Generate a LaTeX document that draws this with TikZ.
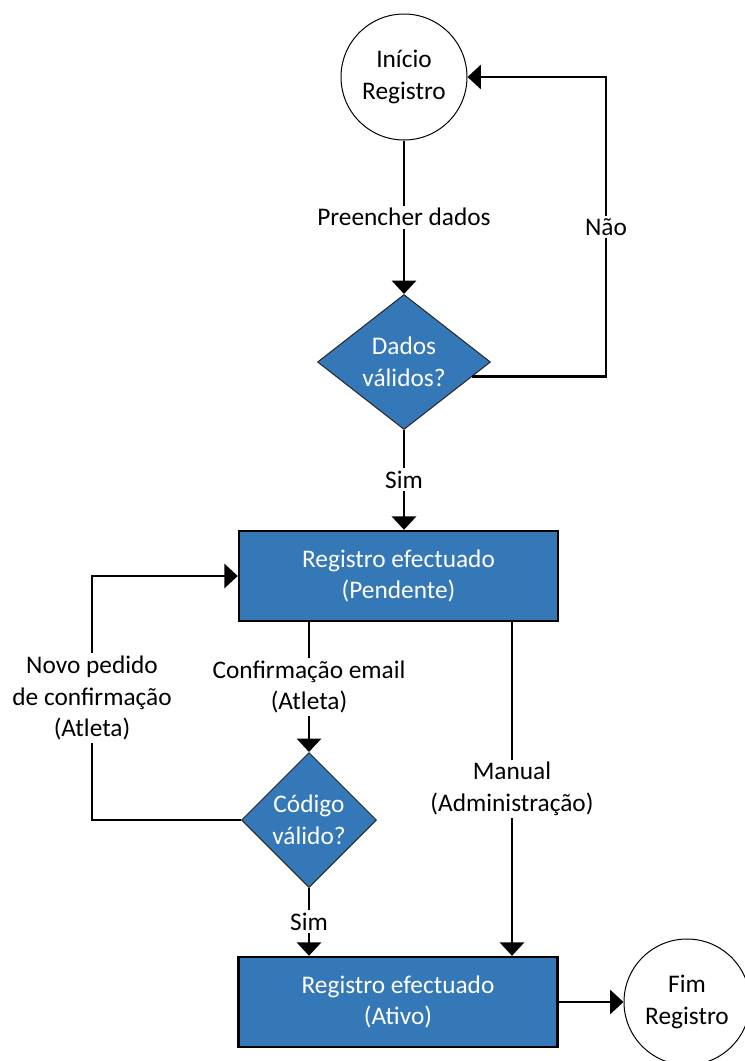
\documentclass[tikz,border=0pt]{standalone}
\usepackage{fontspec}
\setmainfont{Carlito}
\usetikzlibrary{shapes.geometric,arrows.meta}
\definecolor{flowblue}{RGB}{52,120,183}
\begin{document}
\begin{tikzpicture}[x=0.75pt,y=-0.75pt,
  every node/.style={font=\fontsize{19}{23.6}\selectfont, align=center},
  terminal/.style={circle, draw=black, line width=0.75pt, fill=white, minimum size=94.5pt, inner sep=0pt},
  decision/.style={diamond, draw=black!85, line width=0.75pt, fill=flowblue, text=white, inner sep=-3pt},
  process/.style={rectangle, draw=black, line width=1.8pt, fill=flowblue, text=white,
                  minimum width=239.25pt, minimum height=67.5pt},
  flow/.style={line width=1.8pt, -{Triangle[width=18pt,length=10pt]}},
  tag/.style={fill=white, inner sep=2pt}
]
\useasboundingbox (0,0) rectangle (744,1061);

% shapes
\node[terminal] (start) at (404,77) {Início\\Registro};
\node[decision, aspect=1.3, minimum width=129.75pt, minimum height=101.25pt] (valid) at (404,362) {Dados\\válidos?};
\node[process] (pend) at (398.5,576) {Registro efectuado\\(Pendente)};
\node[decision, minimum width=101.25pt, minimum height=101.25pt] (code) at (309,820) {Código\\válido?};
\node[process] (ativo) at (398,1002) {Registro efectuado\\(Ativo)};
\node[terminal] (fim) at (687,1002) {Fim\\Registro};

% columns used by the routed connectors
\coordinate (loopx) at (606,0);
\coordinate (retx) at (92,0);
\coordinate (manx) at (512,0);

% connectors
\draw[flow] (start.south) -- node[tag]{Preencher dados} (valid.north);
\draw[flow] (valid.-12.6) -- (valid.-12.6 -| loopx) |- node[tag,pos=0.25]{Não} (start.east);
\draw[flow] (valid.south) -- node[tag]{Sim} (valid.south |- pend.north);
\draw[flow] (code.north |- pend.south) -- node[tag]{Confirmação email\\(Atleta)} (code.north);
\draw[flow] (code.west) -- (code.west -| retx) |- node[tag,pos=0.25]{Novo pedido\\de confirmação\\(Atleta)} (pend.west);
\draw[flow] (manx |- pend.south) -- node[tag]{Manual\\(Administração)} (manx |- ativo.north);
\draw[flow] (code.south) -- node[tag]{Sim} (code.south |- ativo.north);
\draw[flow] (ativo.east) -- (fim.west);
\end{tikzpicture}
\end{document}
